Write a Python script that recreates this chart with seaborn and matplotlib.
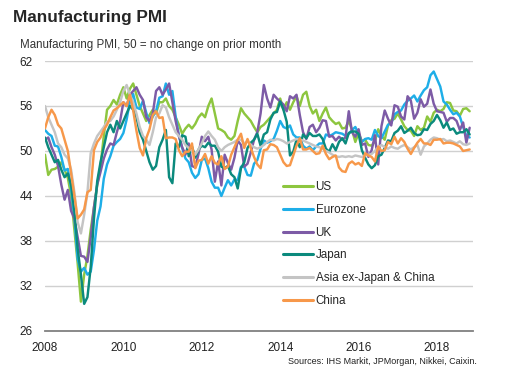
import numpy as np
import pandas as pd
import matplotlib
matplotlib.use("Agg")
import matplotlib.pyplot as plt
import seaborn as sns

# monthly readings, Jan 2008 - Nov 2018
us = [49.5, 46.8, 47.5, 47.6, 47.9, 48.5, 47.5, 46.4, 44.0, 39.5, 35.0, 29.9,
      33.5, 36.0, 39.5, 42.5, 45.5, 48.0, 52.0, 55.5, 56.0, 56.8, 56.2, 57.5,
      58.5, 57.0, 58.3, 59.0, 57.5, 56.0, 55.0, 54.0, 54.8, 55.5, 55.0, 56.5,
      56.5, 57.0, 56.0, 55.5, 54.5, 53.5, 52.3, 53.0, 53.5, 53.0, 53.6, 54.5,
      55.0, 54.5, 56.0, 57.0, 55.0, 53.0, 52.8, 52.5, 51.8, 51.5, 52.0, 54.0,
      55.7, 55.0, 54.5, 54.0, 53.2, 52.5, 53.2, 53.5, 54.0, 54.5, 55.0, 55.5,
      57.0, 55.5, 56.5, 55.5, 56.5, 57.3, 56.0, 57.5, 57.9, 56.0, 55.0, 55.5,
      54.0, 55.0, 55.8, 54.5, 54.0, 53.6, 53.8, 53.0, 53.1, 54.0, 52.8, 51.2,
      52.4, 51.3, 51.5, 50.8, 50.7, 51.3, 52.9, 52.0, 51.5, 53.4, 54.1, 54.3,
      55.0, 54.2, 53.3, 52.8, 52.7, 52.0, 53.3, 52.8, 53.1, 54.6, 53.9, 55.1,
      55.5, 55.3, 55.6, 56.5, 56.4, 55.4, 55.3, 54.7, 55.6, 55.7, 55.3]

eurozone = [52.8, 52.3, 52.0, 50.7, 50.6, 49.2, 47.4, 47.6, 45.0, 41.1, 35.6, 33.9,
            34.4, 33.5, 33.9, 36.8, 40.7, 42.6, 46.3, 48.2, 49.3, 50.7, 51.2, 51.6,
            52.4, 54.2, 56.6, 57.6, 55.8, 55.6, 56.7, 55.1, 53.7, 54.6, 55.3, 57.1,
            57.3, 59.0, 57.5, 58.0, 54.6, 52.0, 50.4, 49.0, 48.5, 47.1, 46.4, 46.9,
            48.8, 49.0, 47.7, 45.9, 45.1, 45.1, 44.0, 45.1, 46.1, 45.4, 46.2, 46.1,
            47.9, 47.9, 46.8, 46.7, 48.3, 48.8, 50.3, 51.4, 51.1, 51.3, 51.6, 52.7,
            54.0, 53.2, 53.0, 53.4, 52.2, 51.8, 51.8, 50.7, 50.3, 50.6, 50.1, 50.6,
            51.0, 51.0, 52.2, 52.0, 52.2, 52.5, 52.4, 52.3, 52.0, 52.3, 52.8, 53.2,
            52.3, 51.2, 51.6, 51.7, 51.5, 52.8, 52.0, 51.7, 52.6, 53.5, 53.7, 54.9,
            55.2, 55.4, 56.2, 56.7, 57.0, 57.4, 56.6, 57.4, 58.1, 58.5, 60.1, 60.6,
            59.6, 58.6, 56.6, 56.2, 55.5, 54.9, 55.1, 54.6, 53.2, 52.0, 51.8]

uk = [51.5, 51.8, 50.5, 49.5, 48.0, 45.5, 43.5, 44.8, 42.0, 41.0, 38.5, 36.0,
      35.9, 35.2, 38.5, 42.5, 45.5, 47.2, 49.0, 50.2, 51.0, 50.8, 52.5, 54.0,
      56.5, 56.0, 57.5, 58.0, 58.5, 57.5, 56.8, 54.5, 54.0, 55.0, 58.0, 58.5,
      57.5, 58.2, 59.0, 56.5, 54.0, 52.0, 50.5, 49.5, 51.0, 48.0, 47.8, 49.6,
      51.9, 51.3, 51.9, 50.2, 45.9, 48.6, 45.4, 49.5, 48.4, 47.5, 49.1, 51.4,
      50.8, 47.9, 48.3, 49.8, 51.5, 52.5, 55.0, 58.8, 57.0, 55.8, 57.5, 57.0,
      56.6, 56.2, 55.3, 57.3, 57.0, 57.5, 54.8, 52.5, 51.6, 53.2, 53.5, 52.5,
      53.1, 54.1, 54.0, 51.9, 52.0, 51.4, 51.9, 51.5, 51.8, 55.3, 52.5, 51.9,
      52.9, 50.8, 51.0, 49.2, 50.1, 52.1, 48.2, 53.3, 55.4, 54.3, 53.4, 56.1,
      55.9, 54.6, 54.2, 57.3, 56.7, 54.3, 55.1, 56.9, 55.9, 56.3, 58.2, 56.3,
      55.3, 55.2, 55.1, 53.9, 54.4, 54.4, 54.0, 52.8, 53.8, 51.1, 53.1]

japan = [51.8, 50.5, 49.5, 48.5, 48.8, 47.5, 46.5, 47.0, 45.5, 42.0, 37.0, 33.5,
         29.6, 30.5, 34.5, 41.0, 46.0, 48.5, 50.5, 52.5, 53.5, 52.5, 54.0, 53.0,
         54.0, 55.0, 56.0, 55.5, 54.5, 52.5, 51.5, 50.0, 48.5, 47.5, 48.0, 50.5,
         51.5, 52.8, 46.5, 45.7, 51.0, 50.5, 52.1, 51.9, 49.3, 50.6, 49.1, 50.2,
         50.7, 50.5, 51.1, 50.7, 50.7, 49.9, 47.9, 47.7, 48.0, 46.9, 46.5, 45.0,
         47.7, 48.5, 50.4, 51.1, 51.5, 52.3, 50.7, 52.2, 52.5, 54.2, 55.1, 55.2,
         56.6, 55.5, 53.9, 49.4, 49.9, 51.5, 50.5, 52.2, 51.7, 52.4, 52.0, 52.0,
         52.2, 51.6, 50.3, 49.9, 50.9, 50.1, 51.2, 51.7, 51.0, 52.4, 52.6, 52.6,
         52.3, 50.1, 49.1, 48.2, 47.7, 48.1, 49.3, 49.5, 50.4, 51.4, 51.3, 52.4,
         52.7, 53.3, 52.4, 52.7, 53.1, 52.4, 52.1, 52.2, 52.9, 52.8, 53.6, 54.0,
         54.8, 54.1, 53.1, 53.8, 52.8, 53.0, 52.3, 52.5, 52.5, 52.9, 52.2]

asia_ex = [56.0, 54.5, 53.5, 52.5, 51.0, 50.5, 49.5, 49.0, 47.5, 44.5, 40.5, 39.0,
           41.5, 44.5, 49.7, 51.0, 52.0, 52.6, 53.2, 53.9, 54.0, 54.6, 55.5, 56.5,
           58.0, 58.8, 57.5, 56.5, 55.0, 53.2, 52.0, 51.5, 50.8, 52.5, 54.5, 55.0,
           56.1, 55.8, 54.5, 53.5, 52.5, 52.0, 51.5, 50.8, 50.4, 50.0, 49.5, 50.2,
           51.0, 52.0, 52.6, 52.0, 51.5, 50.5, 50.0, 50.5, 50.8, 51.0, 51.2, 51.5,
           51.5, 51.0, 51.3, 50.8, 50.5, 50.3, 50.5, 50.8, 51.2, 51.5, 51.4, 51.6,
           51.5, 51.3, 51.0, 51.2, 51.4, 51.6, 51.5, 51.4, 51.2, 51.0, 50.8, 50.6,
           50.5, 50.3, 50.0, 49.8, 49.5, 49.3, 49.2, 49.3, 49.2, 49.3, 49.2, 49.4,
           49.3, 49.2, 49.4, 49.5, 49.6, 50.0, 50.5, 50.8, 50.5, 50.3, 50.6, 50.4,
           50.3, 50.6, 50.8, 50.5, 50.2, 50.5, 50.8, 49.5, 50.6, 51.0, 51.5, 51.8,
           51.7, 51.5, 51.6, 51.3, 51.4, 51.2, 51.0, 51.3, 50.9, 50.8, 51.0]

china = [53.0, 54.5, 55.5, 54.8, 53.5, 53.0, 51.5, 50.0, 47.0, 44.0, 41.0, 41.5,
         42.2, 44.5, 44.8, 50.1, 51.2, 51.8, 52.8, 53.5, 54.5, 55.4, 55.7, 56.1,
         56.5, 56.0, 57.5, 55.4, 52.7, 50.4, 49.4, 51.7, 52.9, 54.8, 55.3, 54.4,
         54.5, 51.7, 51.8, 51.8, 51.6, 50.1, 49.3, 49.9, 49.9, 51.0, 47.7, 48.7,
         48.8, 49.6, 48.3, 49.3, 48.4, 48.2, 49.3, 47.6, 47.9, 49.5, 50.5, 51.5,
         52.3, 50.4, 51.6, 50.4, 49.2, 48.2, 47.7, 50.1, 50.2, 50.9, 50.8, 50.5,
         49.5, 48.5, 48.0, 48.1, 49.4, 50.7, 51.7, 50.2, 50.2, 50.4, 50.0, 49.6,
         49.7, 50.7, 49.6, 48.9, 49.2, 49.4, 47.8, 47.3, 47.2, 48.3, 48.6, 48.2,
         48.4, 48.0, 49.7, 49.4, 49.2, 48.6, 50.6, 50.0, 50.1, 51.2, 50.9, 51.9,
         51.0, 51.7, 51.2, 50.3, 49.6, 50.4, 51.1, 51.6, 51.0, 51.0, 50.8, 51.5,
         51.5, 51.6, 51.0, 51.1, 51.1, 51.0, 50.8, 50.6, 50.0, 50.1, 50.2]

series_names = ["US", "Eurozone", "UK", "Japan", "Asia ex-Japan & China", "China"]
series_values = [us, eurozone, uk, japan, asia_ex, china]
colors = ["#8dc63f", "#1eaee8", "#7d5ba6", "#0b8a7d", "#c4c4c4", "#f7984a"]

year_ticks = [2008, 2010, 2012, 2014, 2016, 2018]
y_ticks = [26, 32, 38, 44, 50, 56, 62]

months = np.arange(len(us))
t = 2008 + months / 12

df = pd.concat(
    [pd.DataFrame({"t": t, "pmi": vals, "series": name})
     for name, vals in zip(series_names, series_values)],
    ignore_index=True,
)

sns.set_style("white")
plt.rcParams["font.family"] = ["Liberation Sans", "DejaVu Sans"]

fig = plt.figure(figsize=(5.17, 3.79), dpi=100)
ax = fig.add_axes([0.087, 0.127, 0.828, 0.712])

sns.lineplot(data=df, x="t", y="pmi", hue="series", hue_order=series_names,
             palette=colors, linewidth=1.75, ax=ax, legend=False)

ax.set_xlim(2008, 2018.92)
ax.set_ylim(26, 62)
ax.set_xticks(year_ticks)
ax.set_xticklabels([str(y) for y in year_ticks], fontsize=8.5, color="#222222")
ax.set_yticks(y_ticks)
ax.set_yticklabels([str(v) for v in y_ticks], fontsize=8.5, color="#222222")
ax.set_xlabel("")
ax.set_ylabel("")

for v in y_ticks[1:]:
    ax.axhline(v, color="#d0d0d0", linewidth=1.0, zorder=0)

for s in ["top", "right", "left"]:
    ax.spines[s].set_visible(False)
ax.spines["bottom"].set_color("#808080")
ax.spines["bottom"].set_linewidth(1.3)
ax.tick_params(axis="x", direction="out", length=4, width=1.0, color="#808080", pad=4)
ax.tick_params(axis="y", length=0, pad=9)

handles = [plt.Line2D([], [], color=c, linewidth=2.2) for c in colors]
ax.legend(handles, series_names, loc="upper left", bbox_to_anchor=(0.545, 0.572),
          frameon=False, fontsize=8.4, handlelength=2.6, handletextpad=0.2,
          labelspacing=0.92, borderaxespad=0)

fig.text(0.025, 0.955, "Manufacturing PMI", fontsize=12.4, fontweight="bold",
         va="center", ha="left")
fig.text(0.039, 0.88, "Manufacturing PMI, 50 = no change on prior month",
         fontsize=8.3, va="center", ha="left", color="#333333")
fig.text(0.923, 0.045, "Sources: IHS Markit, JPMorgan, Nikkei, Caixin.",
         fontsize=6.5, va="center", ha="right", color="#222222")

fig.savefig("out.png", dpi=100)
